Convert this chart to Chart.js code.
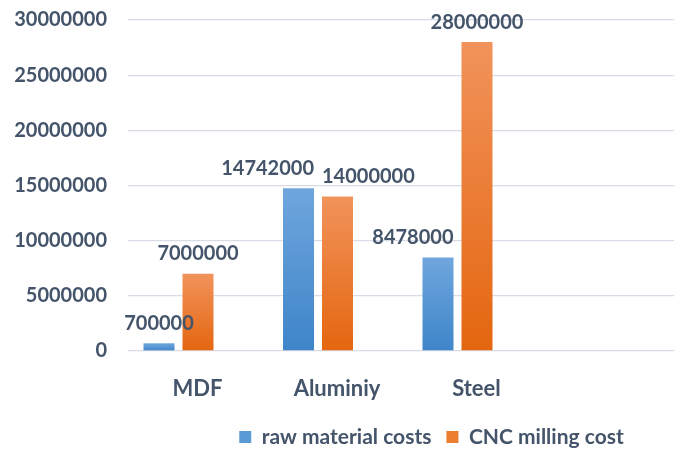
<!DOCTYPE html>
<html><head><meta charset="utf-8">
<script src="https://cdn.jsdelivr.net/npm/chart.js@4"></script>
<style>html,body{margin:0;padding:0;background:#fff}</style>
</head><body>
<canvas id="c" width="674" height="452"></canvas>
<script>
const categories = ['MDF', 'Aluminiy', 'Steel'];
const rawMaterialCosts = [700000, 14742000, 8478000];
const cncMillingCost = [7000000, 14000000, 28000000];
const seriesNames = ['raw material costs', 'CNC milling cost'];
const yMin = 0, yMax = 30000000, yStep = 5000000;

const TEXT = '#44546A';
const FONT = 'Lato';

function barGradient(top, bottom) {
  return function (ctx) {
    if (ctx.type !== 'data') return top;
    const chart = ctx.chart;
    if (!chart.chartArea) return top;
    const ys = chart.scales.y;
    const t = ys.getPixelForValue(ctx.raw.y);
    const b = ys.getPixelForValue(0);
    const g = chart.ctx.createLinearGradient(0, t, 0, b);
    g.addColorStop(0, top);
    g.addColorStop(1, bottom);
    return g;
  };
}

const legendPlace = {
  id: 'legendPlace',
  afterLayout(chart) {
    const lg = chart.legend;
    if (!lg) return;
    const dx = 431.5 - (lg.left + lg.right) / 2;
    lg.left += dx; lg.right += dx;
    const pad = lg.options.labels.padding;
    const newTop = 437 - 10.5 - pad;
    const h = lg.bottom - lg.top;
    lg.top = newTop; lg.bottom = newTop + h;
  }
};

const barLabels = {
  id: 'barLabels',
  afterDatasetsDraw(chart) {
    const ctx = chart.ctx;
    ctx.save();
    ctx.font = 'bold 20px ' + FONT;
    ctx.fillStyle = TEXT;
    ctx.textAlign = 'center';
    ctx.textBaseline = 'middle';
    const m0 = chart.getDatasetMeta(0), m1 = chart.getDatasetMeta(1);
    categories.forEach((c, i) => {
      const b0 = m0.data[i], b1 = m1.data[i];
      const t0 = String(rawMaterialCosts[i]), t1 = String(cncMillingCost[i]);
      const w0 = ctx.measureText(t0).width, w1 = ctx.measureText(t1).width;
      const y0 = b0.y - 20, y1 = b1.y - 20;
      let x0 = b0.x, x1 = b1.x;
      const right0 = x0 + w0 / 2, left1 = x1 - w1 / 2;
      const bar1Left = b1.x - b1.width / 2;
      if (Math.abs(y0 - y1) < 24 && right0 + 4 > left1) {
        x0 = b0.x + b0.width / 2 - w0 / 2;
        x1 = b1.x - b1.width / 2 + w1 / 2;
      } else if (y0 > b1.y && right0 - bar1Left > 0.4 * b1.width) {
        x0 = b0.x + b0.width / 2 - w0 / 2;
      }
      ctx.fillText(t0, x0, y0);
      ctx.fillText(t1, x1, y1);
    });
    ctx.restore();
  }
};

new Chart(document.getElementById('c'), {
  type: 'bar',
  data: {
    datasets: [
      {
        label: seriesNames[0],
        data: rawMaterialCosts.map((v, i) => ({ x: i, y: v })),
        backgroundColor: barGradient('#6FA6DD', '#3E85C9'),
        borderWidth: 0
      },
      {
        label: seriesNames[1],
        data: cncMillingCost.map((v, i) => ({ x: i, y: v })),
        backgroundColor: barGradient('#F1935B', '#E4660F'),
        borderWidth: 0
      }
    ]
  },
  options: {
    responsive: false,
    animation: false,
    categoryPercentage: 0.559,
    barPercentage: 0.795,
    layout: { padding: { top: 20, right: 0, bottom: 0, left: 0 } },
    plugins: {
      tooltip: { enabled: false },
      legend: {
        position: 'bottom',
        labels: {
          boxWidth: 12, boxHeight: 12, padding: 15,
          color: TEXT,
          font: { family: FONT, size: 21, weight: 'bold' },
          generateLabels(chart) {
            const cols = ['#5B9BD5', '#ED7D31'];
            return chart.data.datasets.map((d, i) => ({
              text: d.label, fillStyle: cols[i], strokeStyle: cols[i], lineWidth: 0,
              fontColor: TEXT, datasetIndex: i, hidden: false
            }));
          }
        }
      }
    },
    scales: {
      x: {
        type: 'linear',
        offset: false,
        min: -0.362,
        max: 3.552,
        grid: { display: false, drawTicks: false, offset: false },
        border: { display: false },
        afterBuildTicks(scale) { scale.ticks = categories.map((c, i) => ({ value: i })); },
        afterFit(scale) { scale.height = scale.chart.height - scale.chart.legend.height - 351; },
        ticks: {
          autoSkip: false, maxRotation: 0, padding: 25, labelOffset: 19,
          color: TEXT,
          font: { family: FONT, size: 22, weight: 'bold' },
          callback: (v) => categories[v]
        }
      },
      y: {
        min: yMin, max: yMax,
        grid: { color: '#D9DCE6', lineWidth: 1.3, drawTicks: true, tickLength: 21, tickColor: 'rgba(0,0,0,0)' },
        border: { display: false },
        afterFit(scale) { scale.width = 128; },
        ticks: {
          stepSize: yStep, padding: 0,
          color: TEXT,
          font: { family: FONT, size: 20, weight: 'bold' },
          callback: (v) => String(v)
        }
      }
    }
  },
  plugins: [legendPlace, barLabels]
});
</script>
</body></html>
